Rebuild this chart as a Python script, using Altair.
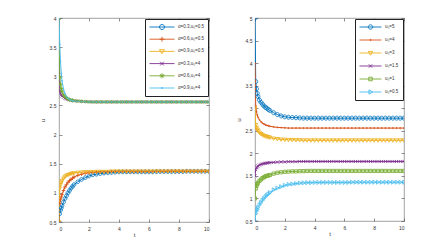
import altair as alt
import pandas as pd

# ---------------- data ----------------
t = [0, 0.05, 0.1, 0.15, 0.2, 0.3, 0.4, 0.5, 0.6, 0.7, 0.8, 0.9, 1.0,
     1.25, 1.5, 1.75, 2.0, 2.25, 2.5, 2.75, 3.0, 3.25, 3.5, 3.75,
     4.0, 4.25, 4.5, 4.75, 5.0, 5.25, 5.5, 5.75, 6.0, 6.25, 6.5, 6.75,
     7.0, 7.25, 7.5, 7.75, 8.0, 8.25, 8.5, 8.75, 9.0, 9.25, 9.5, 9.75, 10.0]

left_labels = ["α=0.3,u₀=0.5", "α=0.6,u₀=0.5", "α=0.9,u₀=0.5",
               "α=0.3,u₀=4", "α=0.6,u₀=4", "α=0.9,u₀=4"]
right_labels = ["u₀=5", "u₀=4", "u₀=3", "u₀=1.5", "u₀=1", "u₀=0.5"]

a03_u05 = [0.50, 0.64, 0.70, 0.74, 0.78, 0.84, 0.90, 0.95, 1.00, 1.04, 1.08, 1.11,
           1.14, 1.19, 1.23, 1.26, 1.29, 1.31, 1.32, 1.33, 1.34, 1.345, 1.35, 1.355,
           1.36, 1.36, 1.36, 1.36, 1.36,
           1.36, 1.36, 1.36, 1.36, 1.36,
           1.365, 1.365, 1.365, 1.365, 1.365,
           1.365, 1.365, 1.365, 1.37, 1.37,
           1.37, 1.37, 1.37, 1.37, 1.37]
a06_u05 = [0.50, 0.82, 0.88, 0.93, 0.97, 1.04, 1.10, 1.14, 1.18, 1.21, 1.23, 1.25,
           1.27, 1.30, 1.32, 1.335, 1.345, 1.35, 1.355, 1.36, 1.36, 1.36, 1.365, 1.365,
           1.365, 1.365, 1.365, 1.365, 1.365,
           1.365, 1.365, 1.365, 1.365, 1.365,
           1.37, 1.37, 1.37, 1.37, 1.37,
           1.37, 1.37, 1.37, 1.37, 1.37,
           1.37, 1.37, 1.37, 1.37, 1.37]
a09_u05 = [0.50, 1.08, 1.14, 1.18, 1.21, 1.25, 1.28, 1.30, 1.31, 1.32, 1.33, 1.335,
           1.34, 1.35, 1.355, 1.36, 1.36, 1.36, 1.365, 1.365, 1.365, 1.365, 1.37, 1.37,
           1.37, 1.37, 1.37, 1.37, 1.37,
           1.37, 1.37, 1.37, 1.37, 1.37,
           1.37, 1.37, 1.37, 1.37, 1.37,
           1.37, 1.37, 1.37, 1.37, 1.37,
           1.37, 1.37, 1.37, 1.37, 1.37]
a03_u4 = [4.00, 2.75, 2.71, 2.68, 2.66, 2.64, 2.62, 2.61, 2.60, 2.595, 2.59, 2.585,
          2.58, 2.575, 2.57, 2.565, 2.565, 2.56, 2.56, 2.56, 2.56, 2.56, 2.56, 2.56,
          2.56, 2.56, 2.56, 2.56, 2.56,
          2.56, 2.56, 2.56, 2.56, 2.56,
          2.56, 2.56, 2.56, 2.56, 2.56,
          2.56, 2.56, 2.56, 2.56, 2.56,
          2.56, 2.56, 2.56, 2.56, 2.56]
a06_u4 = [4.00, 2.98, 2.86, 2.79, 2.74, 2.68, 2.65, 2.63, 2.61, 2.60, 2.59, 2.585,
          2.58, 2.575, 2.57, 2.565, 2.56, 2.56, 2.56, 2.56, 2.56, 2.56, 2.56, 2.56,
          2.56, 2.56, 2.56, 2.56, 2.56,
          2.56, 2.56, 2.56, 2.56, 2.56,
          2.56, 2.56, 2.56, 2.56, 2.56,
          2.56, 2.56, 2.56, 2.56, 2.56,
          2.56, 2.56, 2.56, 2.56, 2.56]
a09_u4 = [4.00, 3.55, 3.25, 3.05, 2.92, 2.78, 2.70, 2.65, 2.62, 2.60, 2.59, 2.58,
          2.575, 2.57, 2.565, 2.56, 2.56, 2.56, 2.56, 2.56, 2.56, 2.56, 2.56, 2.56,
          2.56, 2.56, 2.56, 2.56, 2.56,
          2.56, 2.56, 2.56, 2.56, 2.56,
          2.56, 2.56, 2.56, 2.56, 2.56,
          2.56, 2.56, 2.56, 2.56, 2.56,
          2.56, 2.56, 2.56, 2.56, 2.56]

u0_5 = [5.00, 3.59, 3.43, 3.33, 3.26, 3.18, 3.13, 3.09, 3.05, 3.02, 3.00, 2.97,
        2.95, 2.90, 2.86, 2.83, 2.81, 2.80, 2.795, 2.79, 2.785, 2.78, 2.78, 2.78,
        2.78, 2.78, 2.78, 2.78, 2.78,
        2.78, 2.78, 2.78, 2.78, 2.78,
        2.78, 2.78, 2.78, 2.78, 2.78,
        2.78, 2.78, 2.78, 2.78, 2.78,
        2.78, 2.78, 2.78, 2.78, 2.78]
u0_4 = [4.00, 3.05, 2.92, 2.85, 2.80, 2.74, 2.70, 2.67, 2.65, 2.63, 2.62, 2.61,
        2.60, 2.585, 2.575, 2.57, 2.565, 2.56, 2.56, 2.56, 2.56, 2.56, 2.56, 2.56,
        2.56, 2.56, 2.56, 2.56, 2.56,
        2.56, 2.56, 2.56, 2.56, 2.56,
        2.56, 2.56, 2.56, 2.56, 2.56,
        2.56, 2.56, 2.56, 2.56, 2.56,
        2.56, 2.56, 2.56, 2.56, 2.56]
u0_3 = [3.00, 2.63, 2.57, 2.53, 2.50, 2.46, 2.43, 2.41, 2.39, 2.38, 2.37, 2.36,
        2.35, 2.33, 2.32, 2.31, 2.305, 2.30, 2.30, 2.295, 2.295, 2.29, 2.29, 2.29,
        2.29, 2.29, 2.29, 2.29, 2.29,
        2.29, 2.29, 2.29, 2.29, 2.29,
        2.29, 2.29, 2.29, 2.29, 2.29,
        2.29, 2.29, 2.29, 2.29, 2.29,
        2.29, 2.29, 2.29, 2.29, 2.29]
u0_15 = [1.50, 1.64, 1.68, 1.70, 1.72, 1.74, 1.755, 1.765, 1.775, 1.78, 1.785, 1.79,
         1.795, 1.80, 1.805, 1.81, 1.81, 1.815, 1.815, 1.815, 1.82, 1.82, 1.82, 1.82,
         1.82, 1.82, 1.82, 1.82, 1.82,
         1.82, 1.82, 1.82, 1.82, 1.82,
         1.82, 1.82, 1.82, 1.82, 1.82,
         1.82, 1.82, 1.82, 1.82, 1.82,
         1.82, 1.82, 1.82, 1.82, 1.82]
u0_1 = [1.00, 1.22, 1.28, 1.32, 1.35, 1.39, 1.42, 1.45, 1.47, 1.49, 1.50, 1.51,
        1.52, 1.55, 1.57, 1.58, 1.59, 1.595, 1.60, 1.60, 1.605, 1.605, 1.61, 1.61,
        1.61, 1.61, 1.61, 1.61, 1.61,
        1.61, 1.61, 1.61, 1.61, 1.61,
        1.61, 1.61, 1.61, 1.61, 1.61,
        1.61, 1.61, 1.61, 1.61, 1.61,
        1.61, 1.61, 1.61, 1.61, 1.61]
u0_05 = [0.50, 0.66, 0.72, 0.76, 0.80, 0.86, 0.91, 0.96, 1.00, 1.04, 1.07, 1.10,
         1.13, 1.19, 1.23, 1.26, 1.29, 1.31, 1.32, 1.33, 1.34, 1.345, 1.35, 1.35,
         1.355, 1.355, 1.355, 1.355, 1.355,
         1.355, 1.355, 1.355, 1.355, 1.355,
         1.36, 1.36, 1.36, 1.36, 1.36,
         1.36, 1.36, 1.36, 1.36, 1.36,
         1.36, 1.36, 1.36, 1.36, 1.36]

left_series = [a03_u05, a06_u05, a09_u05, a03_u4, a06_u4, a09_u4]
right_series = [u0_5, u0_4, u0_3, u0_15, u0_1, u0_05]

left_yticks = [0.5, 1, 1.5, 2, 2.5, 3, 3.5, 4]
right_yticks = [0.5, 1, 1.5, 2, 2.5, 3, 3.5, 4, 4.5, 5]
xticks = [0, 2, 4, 6, 8, 10]

colors = ["#0072BD", "#D95319", "#EDB120", "#7E2F8E", "#77AC30", "#4DBEEE"]


def long_df(labels, series):
    rows = []
    for lab, vals in zip(labels, series):
        for tt, v in zip(t, vals):
            rows.append({"t": tt, "u": v, "series": lab})
    return pd.DataFrame(rows)


df_left = long_df(left_labels, left_series)
df_right = long_df(right_labels, right_series)


# ---------------- marker shapes (unit paths) ----------------
def f(v):
    return f"{v:.3g}"


def circle(s):
    return f"M{f(-s)},0A{f(s)},{f(s)} 0 1,1 {f(s)},0A{f(s)},{f(s)} 0 1,1 {f(-s)},0Z"


def plus(s):
    return f"M{f(-s)},0L{f(s)},0M0,{f(-s)}L0,{f(s)}"


def cross(s):
    k = 0.75 * s
    return f"M{f(-k)},{f(-k)}L{f(k)},{f(k)}M{f(-k)},{f(k)}L{f(k)},{f(-k)}"


def star(s):
    return plus(s) + cross(0.95 * s)


def tri_down(s):
    return f"M{f(-s)},{f(-0.7 * s)}L{f(s)},{f(-0.7 * s)}L0,{f(s)}Z"


def tri_right(s):
    return f"M{f(-0.7 * s)},{f(-s)}L{f(s)},0L{f(-0.7 * s)},{f(s)}Z"


def square(s):
    k = 0.8 * s
    return f"M{f(-k)},{f(-k)}L{f(k)},{f(-k)}L{f(k)},{f(k)}L{f(-k)},{f(k)}Z"


def dot(s):
    return circle(0.3 * s)


left_markers = [circle, plus, tri_down, cross, star, dot]
right_markers = [circle, dot, tri_down, cross, square, tri_right]

FONT = "Liberation Sans, Arial, DejaVu Sans"
TXT = "#333333"


def panel(df, labels, markers, ydom, yticks, w, h, sym_size, row_pad, msize):
    xs = alt.Scale(domain=[0, 10], nice=False, zero=False)
    ys = alt.Scale(domain=ydom, nice=False, zero=False)

    ax_bottom = alt.Axis(values=xticks, format="~r", tickSize=3, offset=-3, domain=False,
                         grid=False, labelFontSize=5, labelPadding=4, labelColor=TXT,
                         tickColor="#444444", tickWidth=0.6, title="t", titleFontSize=6,
                         titleFontWeight="normal", titleColor=TXT, titlePadding=0)
    ax_left = alt.Axis(values=yticks, format="~r", tickSize=3, offset=-3, domain=False,
                       grid=False, labelFontSize=5, labelPadding=3, labelColor=TXT,
                       tickColor="#444444", tickWidth=0.6, title="u", titleFontSize=6,
                       titleFontWeight="normal", titleColor=TXT, titlePadding=4)
    ax_top = alt.Axis(orient="top", values=xticks, tickSize=3, offset=-3, domain=False,
                      grid=False, labels=False, title=None, tickColor="#444444", tickWidth=0.6)
    ax_right = alt.Axis(orient="right", values=yticks, tickSize=3, offset=-3, domain=False,
                        grid=False, labels=False, title=None, tickColor="#444444", tickWidth=0.6)

    cs = alt.Scale(domain=labels, range=colors)
    base = alt.Chart(df)

    lines = base.mark_line(strokeWidth=1.0, clip=True).encode(
        x=alt.X("t:Q", scale=xs, axis=ax_bottom),
        y=alt.Y("u:Q", scale=ys, axis=ax_left),
        color=alt.Color("series:N", scale=cs, legend=None),
    )
    pts = base.mark_point(filled=False, size=msize, strokeWidth=0.85, opacity=1, clip=True).encode(
        x=alt.X("t:Q", scale=xs, axis=ax_top),
        y=alt.Y("u:Q", scale=ys, axis=ax_right),
        color=alt.Color("series:N", scale=cs, legend=None),
        shape=alt.Shape("series:N", scale=alt.Scale(domain=labels, range=[m(1) for m in markers]),
                        legend=None),
    )
    leg = alt.Legend(title=None, orient="top-right", offset=1, padding=4, fillColor="white",
                     strokeColor="#222222", labelFontSize=4.5, labelColor=TXT, labelFont=FONT,
                     symbolSize=sym_size, symbolStrokeWidth=0.9, rowPadding=row_pad,
                     clipHeight=8, labelOffset=3, labelLimit=300)
    legend_layer = base.transform_filter("datum.t > 1000").mark_point(
        filled=False, strokeWidth=0.9, opacity=1).encode(
        x=alt.X("t:Q", scale=xs, axis=None),
        y=alt.Y("u:Q", scale=ys, axis=None),
        color=alt.Color("series:N", scale=cs, legend=leg),
        shape=alt.Shape("series:N",
                        scale=alt.Scale(domain=labels,
                                        range=["M-1,0L1,0" + m(0.2) for m in markers]),
                        legend=leg),
    )
    return alt.layer(lines, pts, legend_layer).resolve_scale(
        color="independent", shape="independent"
    ).resolve_axis(x="independent", y="independent").properties(width=w, height=h)


left = panel(df_left, left_labels, left_markers, [0.5, 4], left_yticks, 150, 204, 625, 4.2, 14)
right = panel(df_right, right_labels, right_markers, [0.5, 5], right_yticks, 149, 203, 484, 5, 16)

chart = alt.hconcat(left, right, spacing=24).resolve_scale(
    color="independent", shape="independent"
).properties(
    padding={"left": 30, "top": 7, "right": 5, "bottom": 5}
).configure(font=FONT).configure_view(stroke="#8a8a8a", strokeWidth=0.8)

chart.save("out.html", embed_options={"renderer": "svg", "actions": False})
